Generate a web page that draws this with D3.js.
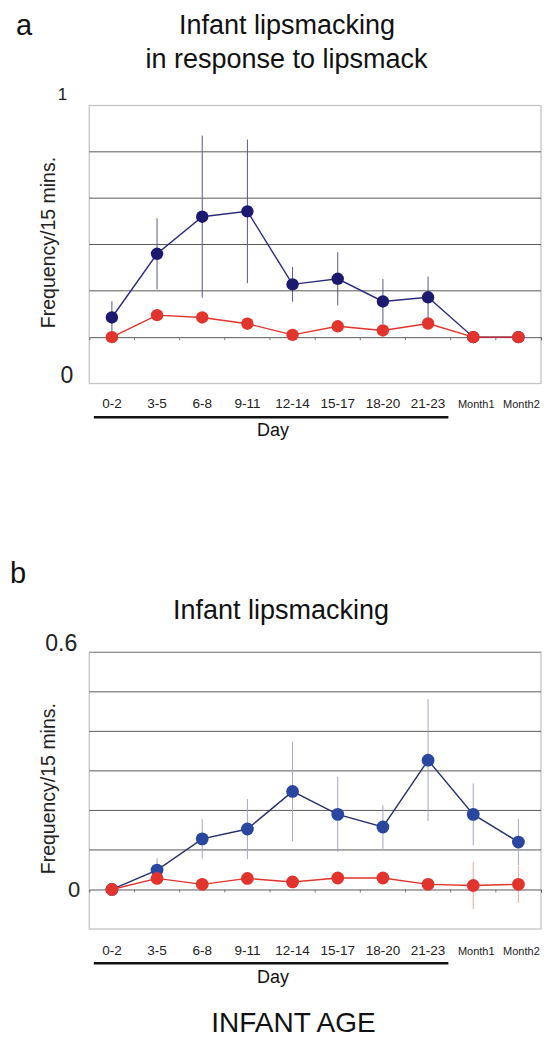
<!DOCTYPE html>
<html>
<head>
<meta charset="utf-8">
<script src="https://cdn.jsdelivr.net/npm/d3@7"></script>
<style>
html,body{margin:0;padding:0;background:#fff;}
svg{display:block;font-family:"Liberation Sans",Arial,sans-serif;}
</style>
</head>
<body>
<svg id="chart" width="558" height="1050"></svg>
<script>
// ---------- data ----------
const categories = ["0-2","3-5","6-8","9-11","12-14","15-17","18-20","21-23","Month1","Month2"];
const dayCount = 8; // first 8 categories are "Day"

// Panel a: Infant lipsmacking in response to lipsmack
const aBlue    = [0.085, 0.36, 0.52, 0.543, 0.228, 0.252, 0.154, 0.172, 0, 0];
const aBlueErr = [0.07, 0.153, 0.35, 0.31, 0.075, 0.115, 0.097, 0.09, 0, 0];
const aRed     = [0, 0.095, 0.085, 0.058, 0.01, 0.047, 0.029, 0.059, 0, 0];
const aGrid    = [0.2, 0.4, 0.6, 0.8];

// Panel b: Infant lipsmacking
const bBlue    = [0, 0.049, 0.128, 0.153, 0.248, 0.19, 0.158, 0.327, 0.19, 0.12];
const bBlueErr = [0, 0.03, 0.05, 0.076, 0.126, 0.095, 0.055, 0.154, 0.078, 0.058];
const bRed     = [0, 0.028, 0.013, 0.028, 0.019, 0.029, 0.029, 0.013, 0.01, 0.013];
const bRedErr  = [0, 0, 0, 0, 0, 0, 0, 0, 0.06, 0.047];
const bGrid    = [0.1, 0.2, 0.3, 0.4, 0.5];

const svg = d3.select("#chart");

function panel(o){
  const g = svg.append("g");
  const x = d3.scalePoint().domain(categories).range([o.left, o.right]).padding(0.5);
  const step = x.step();
  const y = d3.scaleLinear().domain(o.domain).range([o.bottom, o.top]);

  // frame
  g.append("rect").attr("x", o.left).attr("y", o.top)
    .attr("width", o.right - o.left).attr("height", o.bottom - o.top)
    .attr("fill", "none").attr("stroke", "#c4c4c4").attr("stroke-width", 1.3);

  // gridlines
  g.selectAll("line.grid").data(o.grid).enter().append("line")
    .attr("x1", o.left).attr("x2", o.right)
    .attr("y1", d => y(d)).attr("y2", d => y(d))
    .attr("stroke", "#5a5a5a").attr("stroke-width", 1);
  if (o.topDark) {
    g.append("line").attr("x1", o.left).attr("x2", o.right)
      .attr("y1", y(o.domain[1])).attr("y2", y(o.domain[1]))
      .attr("stroke", "#8a8a8a").attr("stroke-width", 1);
  }

  // zero axis with ticks between categories
  const xAxis = d3.axisBottom(x).tickSize(3).tickFormat("");
  const ax = g.append("g").attr("transform", `translate(0,${y(0)})`).call(xAxis);
  ax.select(".domain").attr("stroke", "#5a5a5a").attr("stroke-width", 1);
  ax.selectAll(".tick").attr("transform", d => `translate(${x(d) + step/2},0)`);
  ax.selectAll(".tick line").attr("stroke", "#777");
  ax.selectAll(".tick").filter(d => d === categories[categories.length-1]).remove();

  // category labels
  g.selectAll("text.cat").data(categories).enter().append("text")
    .attr("x", d => x(d) + (d.startsWith("Month") ? 3 : 0))
    .attr("y", o.labelY)
    .attr("text-anchor", "middle")
    .attr("font-size", d => d.startsWith("Month") ? 11 : 13.5)
    .attr("fill", "#222")
    .text(d => d);

  // Day underline
  g.append("line")
    .attr("x1", x(categories[0]) - step*0.4).attr("x2", x(categories[dayCount-1]) + step*0.45)
    .attr("y1", o.underY).attr("y2", o.underY)
    .attr("stroke", "#111").attr("stroke-width", 2.5);
  g.append("text").attr("x", (x(categories[0]) + x(categories[dayCount-1]))/2 + 3)
    .attr("y", o.dayY).attr("text-anchor", "middle").attr("font-size", 18)
    .attr("fill", "#111").text("Day");

  // y-axis title
  g.append("text")
    .attr("transform", `translate(${o.left - 34},${(o.top + o.bottom)/2 - 2}) rotate(-90)`)
    .attr("text-anchor", "middle").attr("font-size", 19.5).attr("fill", "#222")
    .text("Frequency/15 mins.");

  // y labels
  o.yLabels.forEach(l => {
    g.append("text").attr("x", o.left - l.dx).attr("y", y(l.v) + l.dy)
      .attr("text-anchor", "end").attr("font-size", l.size).attr("fill", "#222").text(l.t);
  });

  // error bars
  function errs(vals, err, color){
    g.selectAll(null).data(vals.map((v,i) => ({c: categories[i], v, e: err[i]})).filter(d => d.e > 0))
      .enter().append("line")
      .attr("x1", d => x(d.c)).attr("x2", d => x(d.c))
      .attr("y1", d => y(d.v - d.e)).attr("y2", d => y(d.v + d.e))
      .attr("stroke", color).attr("stroke-width", 1);
  }
  errs(o.blue, o.blueErr, o.blueErrColor);
  if (o.redErr) errs(o.red, o.redErr, o.redErrColor);

  const line = d3.line().x((d,i) => x(categories[i])).y(d => y(d));
  function series(vals, lineColor, dotColor, r){
    g.append("path").datum(vals).attr("d", line)
      .attr("fill", "none").attr("stroke", lineColor).attr("stroke-width", 1.4);
    g.selectAll(null).data(vals).enter().append("circle")
      .attr("cx", (d,i) => x(categories[i])).attr("cy", d => y(d)).attr("r", r)
      .attr("fill", dotColor);
  }
  series(o.blue, o.blueLine, o.blueDot, o.r);
  series(o.red, "#e2332c", "#e2332c", o.r);
}

// Panel a
svg.append("text").attr("x", 16).attr("y", 35).attr("font-size", 29).attr("fill", "#111").text("a");
svg.append("text").attr("x", 287).attr("y", 34).attr("text-anchor", "middle").attr("font-size", 27).attr("fill", "#111").text("Infant lipsmacking");
svg.append("text").attr("x", 286.5).attr("y", 68).attr("text-anchor", "middle").attr("font-size", 27).attr("fill", "#111").text("in response to lipsmack");

panel({
  left: 89.3, right: 541, top: 105.5, bottom: 383.5, domain: [-0.2, 1],
  grid: aGrid, topDark: false,
  blue: aBlue, blueErr: aBlueErr, red: aRed,
  blueLine: "#2a2a80", blueDot: "#1c1a6e", blueErrColor: "#55588f", r: 6.2,
  labelY: 408, underY: 417.3, dayY: 436,
  yLabels: [{t: "1", v: 1, dx: 22, dy: -6, size: 17}, {t: "0", v: -0.2, dx: 16, dy: -1, size: 23}]
});

// Panel b
svg.append("text").attr("x", 10).attr("y", 583).attr("font-size", 29).attr("fill", "#111").text("b");
svg.append("text").attr("x", 281).attr("y", 619).attr("text-anchor", "middle").attr("font-size", 27).attr("fill", "#111").text("Infant lipsmacking");

panel({
  left: 89.3, right: 541, top: 652.3, bottom: 929, domain: [-0.1, 0.6],
  grid: bGrid, topDark: true,
  blue: bBlue, blueErr: bBlueErr, red: bRed, redErr: bRedErr,
  blueLine: "#27306e", blueDot: "#2a47a0", blueErrColor: "#a3a7c4", redErrColor: "#e8a8a8", r: 6.4,
  labelY: 955, underY: 963.3, dayY: 983,
  yLabels: [{t: "0.6", v: 0.6, dx: 12, dy: -1, size: 23}, {t: "0", v: 0, dx: 9, dy: 8, size: 22}]
});

svg.append("text").attr("x", 293.5).attr("y", 1032).attr("text-anchor", "middle").attr("font-size", 28).attr("fill", "#111").text("INFANT AGE");
</script>
</body>
</html>
